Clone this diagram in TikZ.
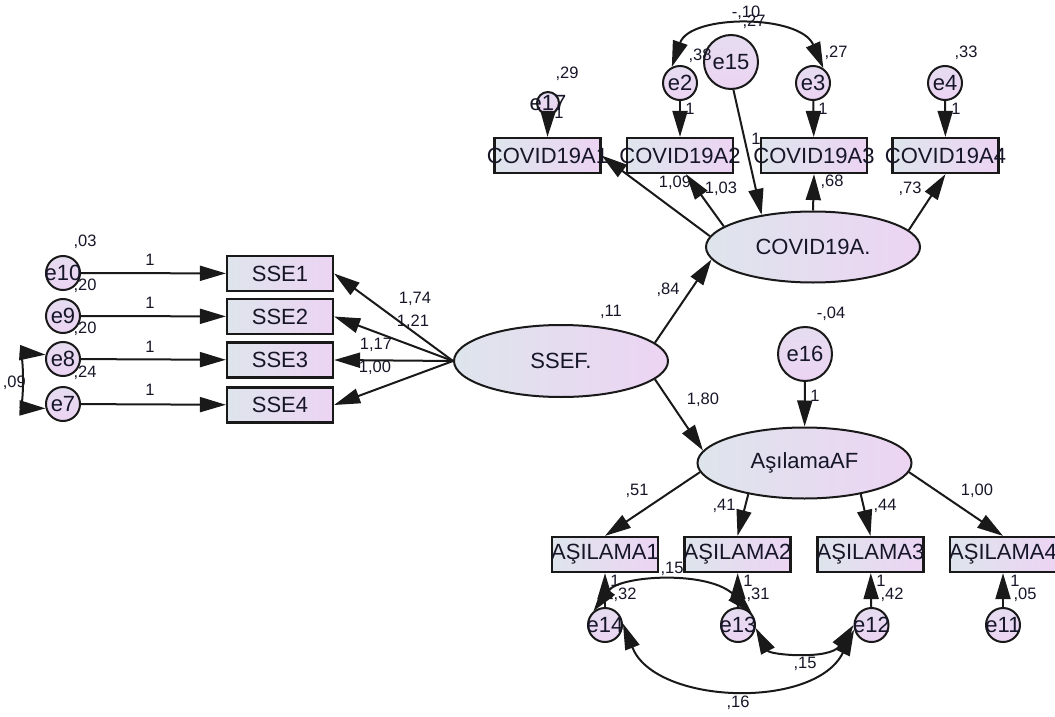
\documentclass[tikz,border=0pt]{standalone}
\usepackage{fontspec}
\setmainfont{Liberation Sans}
\usetikzlibrary{arrows.meta,shapes.geometric}
\definecolor{lc}{RGB}{222,229,236}
\definecolor{rc}{RGB}{236,212,243}
\definecolor{ink}{RGB}{22,22,40}
\definecolor{ln}{RGB}{25,25,25}
\begin{document}
\begin{tikzpicture}[x=1pt,y=-1pt,
 font=\fontsize{22}{24}\selectfont, text=ink,
 obs/.style={rectangle, draw=ln, line width=2.2pt, minimum width=106pt, minimum height=35pt, inner sep=0pt, left color=lc, right color=rc},
 lat/.style={ellipse, draw=ln, line width=2pt, minimum width=214pt, minimum height=71pt, inner sep=0pt, left color=lc, right color=rc},
 err/.style={circle, draw=ln, line width=2pt, minimum size=34pt, inner sep=0pt, top color=lc!50!rc, bottom color=rc},
 lbl/.style={font=\fontsize{16.5}{18}\selectfont, inner sep=0pt},
 arr/.style={draw=ln, line width=2pt, -{Triangle[length=26pt,width=15pt]}},
 cov/.style={draw=ln, line width=2pt, {Triangle[length=26pt,width=15pt]}-{Triangle[length=26pt,width=15pt]}},
]
\useasboundingbox (0,0) rectangle (1055,717);

% observed boxes
\node[obs] (A1) at (547.5,155.5) {\makebox[0pt]{COVID19A1}};
\node[obs] (A2) at (680,155.5) {\makebox[0pt]{COVID19A2}};
\node[obs] (A3) at (814,155.5) {\makebox[0pt]{COVID19A3}};
\node[obs] (A4) at (945.5,155.5) {\makebox[0pt]{COVID19A4}};
\node[obs] (S1) at (280,273.5) {SSE1};
\node[obs] (S2) at (280,316.5) {SSE2};
\node[obs] (S3) at (280,360) {SSE3};
\node[obs] (S4) at (280,405) {SSE4};
\node[obs] (As1) at (605,554.5) {\makebox[0pt]{AŞILAMA1}};
\node[obs] (As2) at (737.5,554.5) {\makebox[0pt]{AŞILAMA2}};
\node[obs] (As3) at (870.5,554.5) {\makebox[0pt]{AŞILAMA3}};
\node[obs] (As4) at (1003,554.5) {\makebox[0pt]{AŞILAMA4}};

% latent
\node[lat] (C) at (813,247) {COVID19A.};
\node[lat, minimum height=72pt] (S) at (561,361) {SSEF.};
\node[lat] (Af) at (804.5,463) {AşılamaAF};

% errors
\node[err, minimum size=22pt] (e17) at (548,103) {\makebox[0pt]{e17}};
\node[err] (e2) at (680,83) {\makebox[0pt]{e2}};
\node[err] (e3) at (813,83) {\makebox[0pt]{e3}};
\node[err] (e4) at (945,83) {\makebox[0pt]{e4}};
\node[err, minimum size=54pt] (e15) at (731,62) {e15};
\node[err, minimum size=54pt] (e16) at (805,354) {e16};
\node[err] (e10) at (63,273) {\makebox[0pt]{e10}};
\node[err] (e9) at (63,316) {\makebox[0pt]{e9}};
\node[err] (e8) at (63,359) {\makebox[0pt]{e8}};
\node[err] (e7) at (63,404) {\makebox[0pt]{e7}};
\node[err] (e14) at (605,625) {\makebox[0pt]{e14}};
\node[err] (e13) at (738,625) {\makebox[0pt]{e13}};
\node[err] (e12) at (871.5,625) {\makebox[0pt]{e12}};
\node[err] (e11) at (1003,625) {\makebox[0pt]{e11}};

% labels
\node[lbl] (v17) at (567,74) {,29};
\node[lbl] (w17) at (559,113) {1};
\node[lbl] (v2) at (700,56) {,38};
\node[lbl] (w2) at (690,109) {1};
\node[lbl] (v3) at (836,53) {,27};
\node[lbl] (w3) at (823,109) {1};
\node[lbl] (v4) at (966,53) {,33};
\node[lbl] (w4) at (956,109) {1};
\node[lbl] (c23) at (746,13) {-,10};
\node[lbl] (v15) at (754,22) {,27};
\node[lbl] (w15) at (756,139) {1};
\node[lbl] (lA2) at (675,183) {1,09};
\node[lbl] (lA1) at (721,189) {1,03};
\node[lbl] (lA3) at (832,182) {,68};
\node[lbl] (lA4) at (910,189) {,73};
\node[lbl] (lC) at (668,290) {,84};
\node[lbl] (vS) at (611,312) {,11};
\node[lbl] (lAf) at (703,400) {1,80};
\node[lbl] (v16) at (831,314) {-,04};
\node[lbl] (w16) at (815,396) {1};
\node[lbl] (l1) at (637,491) {,51};
\node[lbl] (l2) at (724,506) {,41};
\node[lbl] (l3) at (885,506) {,44};
\node[lbl] (l4) at (977,491) {1,00};
\node[lbl] (w14) at (615,581) {1};
\node[lbl] (v14) at (625,595) {,32};
\node[lbl] (w13) at (748,581) {1};
\node[lbl] (v13) at (758,595) {,31};
\node[lbl] (w12) at (881,581) {1};
\node[lbl] (v12) at (892,595) {,42};
\node[lbl] (w11) at (1015,581) {1};
\node[lbl] (v11) at (1025,595) {,05};
\node[lbl] (c1413) at (672,569) {,15};
\node[lbl] (c1312) at (805,664) {,15};
\node[lbl] (c1412) at (738,703) {,16};
\node[lbl] (v10) at (85,242) {,03};
\node[lbl] (v9) at (85,286) {,20};
\node[lbl] (v8) at (85,329) {,20};
\node[lbl] (v7) at (85,373) {,24};
\node[lbl] (w10) at (150,260) {1};
\node[lbl] (w9) at (150,303) {1};
\node[lbl] (w8) at (150,347) {1};
\node[lbl] (w7) at (150,390) {1};
\node[lbl, anchor=east] (c87) at (26,383) {,09};
\node[lbl] (s1) at (415,299) {1,74};
\node[lbl] (s2) at (413,322) {1,21};
\node[lbl] (s3) at (376,345) {1,17};
\node[lbl] (s4) at (375,368) {1,00};

% regression arrows
\draw[arr] (e17.south) -- (A1.north);
\draw[arr] (e2) -- (A2);
\draw[arr] (e3) -- (A3);
\draw[arr] (e4) -- (A4);
\draw[arr] (e15.-85) -- (C.148);
\draw[arr] (C.174) -- (A1.east);
\draw[arr] (C.167) -- ([xshift=6pt]A2.south);
\draw[arr] (C.north) -- (A3.south);
\draw[arr] (C.10) -- (A4.south);
\draw[arr] (S.11) -- (C.187);
\draw[arr] (S.-11) -- (Af.173);
\draw[arr] (S.west) -- (S1.east);
\draw[arr] (S.west) -- (S2.east);
\draw[arr] (S.west) -- (S3.east);
\draw[arr] (S.west) -- (S4.east);
\draw[arr] (e10) -- (S1);
\draw[arr] (e9) -- (S2);
\draw[arr] (e8) -- (S3);
\draw[arr] (e7) -- (S4);
\draw[arr] (e16) -- (Af);
\draw[arr] (Af.185) -- (As1.north);
\draw[arr] (Af.209) -- (As2.north);
\draw[arr] (Af.-29) -- (As3.north);
\draw[arr] (Af.-5) -- (As4.north);
\draw[arr] (e14) -- (As1);
\draw[arr] (e13) -- (As2);
\draw[arr] (e12) -- (As3);
\draw[arr] (e11) -- (As4);

% covariances
\draw[cov] (e2.117) .. controls (690,14) and (800,14) .. (e3.55);
\draw[cov] (e8.166) .. controls (24,353) and (24,408) .. (e7.194);
\draw[cov] (e14.130) .. controls (620,575) and (710,570) .. (e13.39);
\draw[cov] (e13.-10) .. controls (770,655) and (830,660) .. (e12.180);
\draw[cov] (e14.5) .. controls (655,705) and (815,710) .. (e12.195);
\end{tikzpicture}
\end{document}
